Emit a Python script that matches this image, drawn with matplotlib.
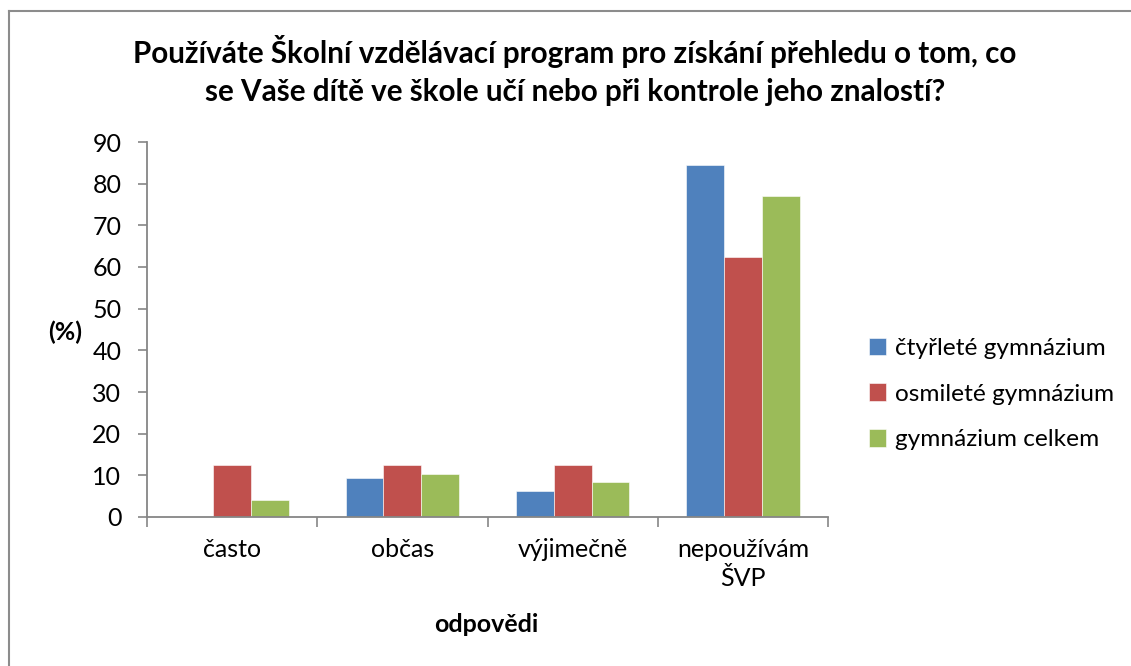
import numpy as np
from matplotlib import pyplot as plt
from matplotlib.lines import Line2D

plt.rcParams['font.family'] = ['Lato', 'DejaVu Sans']

# Data (percent)
categories = ['často', 'občas', 'výjimečně', 'nepoužívám\nŠVP']
series_names = ['čtyřleté gymnázium', 'osmileté gymnázium', 'gymnázium celkem']
ctyrlete = [0.0, 9.4, 6.3, 84.4]
osmilete = [12.5, 12.5, 12.5, 62.5]
celkem = [4.2, 10.4, 8.3, 77.1]
yticks = list(range(0, 91, 10))

# Excel 2007 default palette
COLORS = ['#4F81BD', '#C0504D', '#9BBB59']
AXIS_GRAY = '#868686'

W, H = 1131, 666
fig = plt.figure(figsize=(W / 100, H / 100), dpi=100)
ax = fig.add_axes([147 / W, 1 - 517 / H, 681 / W, 375 / H])

# bars: gap width 150% like Excel
n = len(categories)
x = np.arange(n)
bar_w = 1 / 4.5
for i, vals in enumerate([ctyrlete, osmilete, celkem]):
    ax.bar(x + (i - 1) * bar_w, vals, width=bar_w, color=COLORS[i],
           edgecolor='white', linewidth=0.4, label=series_names[i])

ax.set_xlim(-0.5, n - 0.5)
ax.set_ylim(0, 90)
ax.set_yticks(yticks)
ax.tick_params(axis='y', labelsize=18, length=6.5, width=1.2, color=AXIS_GRAY, pad=12)

# category labels centered, tick marks at category boundaries
ax.set_xticks(x)
ax.set_xticklabels(categories, fontsize=18, linespacing=1.35)
ax.tick_params(axis='x', length=0, pad=15)
ax.set_xticks(np.arange(-0.5, n), minor=True)
ax.tick_params(axis='x', which='minor', length=7, width=1.2, color=AXIS_GRAY)

for side in ['top', 'right']:
    ax.spines[side].set_visible(False)
for side in ['left', 'bottom']:
    ax.spines[side].set_color(AXIS_GRAY)
    ax.spines[side].set_linewidth(1.3)

# axis titles
fig.text(65 / W, 1 - 332 / H, '(%)', fontsize=18, fontweight='bold',
         ha='center', va='center')
fig.text(486 / W, 1 - 625 / H, 'odpovědi', fontsize=18, fontweight='bold',
         ha='center', va='center')

# chart title
fig.text(575 / W, 1 - 52 / H,
         'Používáte Školní vzdělávací program pro získání přehledu o tom, co',
         fontsize=21.3, fontweight='bold', ha='center', va='center')
fig.text(575 / W, 1 - 92 / H,
         'se Vaše dítě ve škole učí nebo při kontrole jeho znalostí?',
         fontsize=21.3, fontweight='bold', ha='center', va='center')

# legend
leg = ax.legend(loc='center left', bbox_to_anchor=(859 / W, 1 - 394 / H),
                bbox_transform=fig.transFigure, frameon=False, fontsize=17.6,
                handlelength=0.72, handleheight=0.72, handletextpad=0.35,
                labelspacing=1.0, borderaxespad=0)

# chart border (only left and top visible in the crop)
fig.add_artist(Line2D([8.5 / W, 8.5 / W], [0, 1 - 10.5 / H], color='#8C8C8C',
                      linewidth=1.5, transform=fig.transFigure))
fig.add_artist(Line2D([8.5 / W, 1], [1 - 10.5 / H, 1 - 10.5 / H], color='#8C8C8C',
                      linewidth=1.5, transform=fig.transFigure))

fig.savefig('out.png', dpi=100)
